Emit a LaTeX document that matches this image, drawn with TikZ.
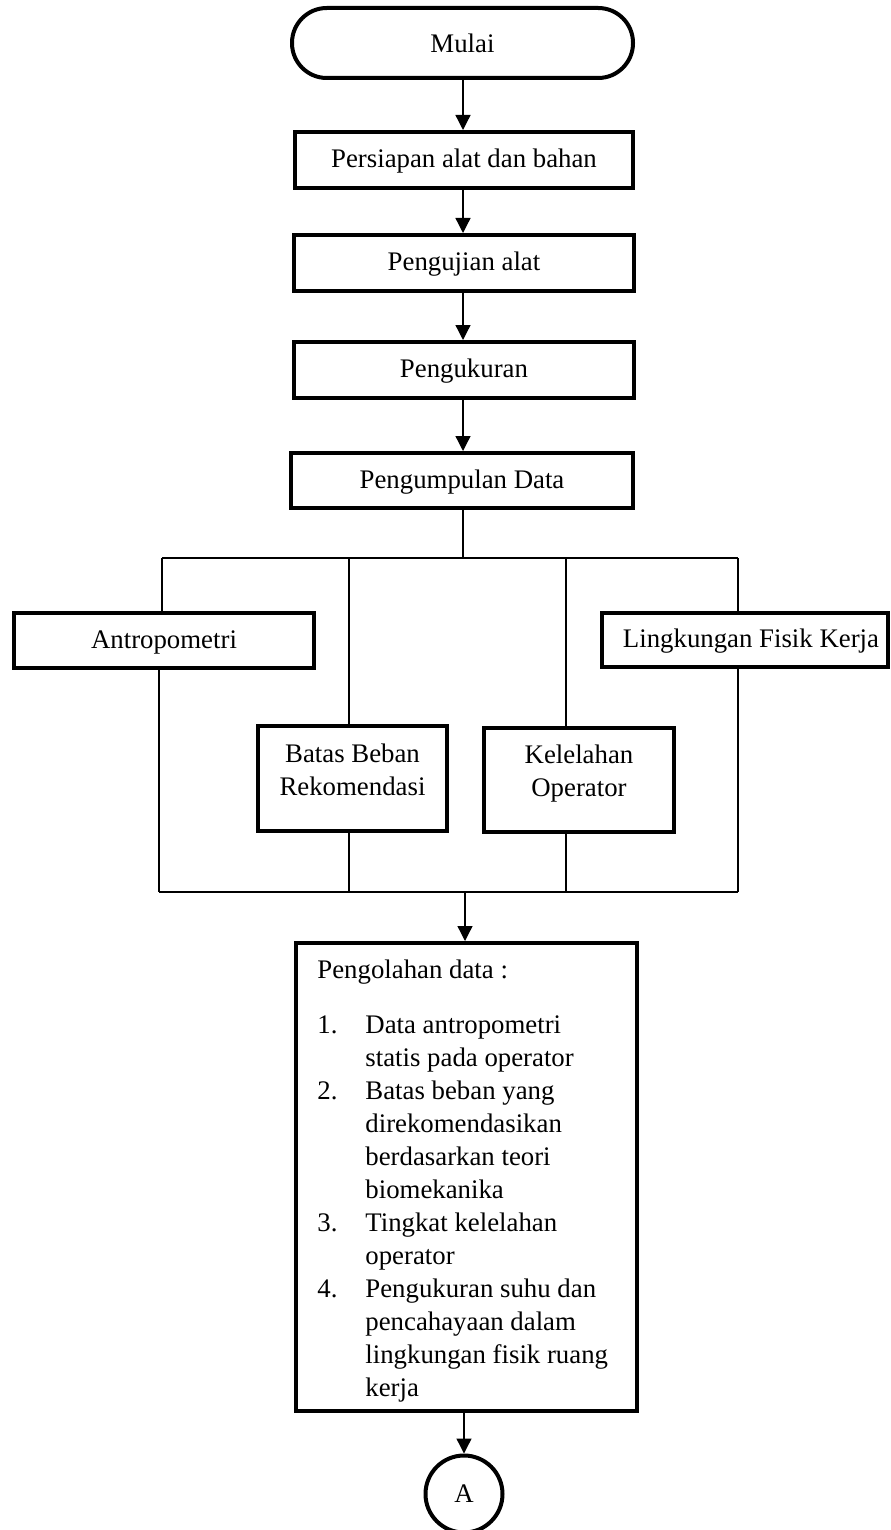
\documentclass[tikz,border=0pt]{standalone}
\usepackage{fontspec}
\setmainfont{Liberation Serif}
\usetikzlibrary{arrows.meta}
\begin{document}
\begin{tikzpicture}[x=0.5pt,y=-0.5pt,
  every node/.style={font=\fontsize{13.4pt}{16.5pt}\selectfont, inner sep=0pt},
  flowbox/.style={draw, line width=2pt, text height=9.4pt, text depth=1.6pt},
  plaintext/.style={text height=9.4pt, text depth=1.6pt},
  conn/.style={line width=0.65pt},
  arr/.style={line width=0.65pt, -{Triangle[length=7.5pt,width=7.5pt]}},
]
\useasboundingbox (0,0) rectangle (890,1530);

% main column
\coordinate (spine) at (463,0);
\node[flowbox, rounded corners=17.4pt, minimum width=170.5pt, minimum height=35pt, text depth=0pt] (mulai) at (462.5,43) {Mulai};
\node[flowbox, minimum width=169pt, minimum height=28pt] (persiapan) at (464,160) {Persiapan alat dan bahan};
\node[flowbox, minimum width=170pt, minimum height=28pt] (pengujian) at (464,263) {Pengujian alat};
\node[flowbox, minimum width=170pt, minimum height=28pt] (pengukuran) at (464,370) {Pengukuran};
\node[flowbox, minimum width=171pt, minimum height=27.5pt] (kumpul) at (462,480.5) {Pengumpulan Data};

\draw[arr] (spine |- mulai.south) -- (spine |- persiapan.north);
\draw[arr] (spine |- persiapan.south) -- (spine |- pengujian.north);
\draw[arr] (spine |- pengujian.south) -- (spine |- pengukuran.north);
\draw[arr] (spine |- pengukuran.south) -- (spine |- kumpul.north);

% branch boxes
\node[flowbox, minimum width=150pt, minimum height=27.5pt] (antro) at (164,640.5) {Antropometri};
\node[flowbox, minimum width=143pt, minimum height=27pt] (ling) at (745,640) {};
\node[plaintext] (lingtext) at (751,640) {Lingkungan Fisik Kerja};
\node[flowbox, minimum width=94.5pt, minimum height=52.5pt] (batas) at (352.5,778.5) {};
\node[anchor=base] (batastext) at (352.5,762) {\parbox[t]{90pt}{\centering Batas Beban\\Rekomendasi}};
\node[flowbox, minimum width=95pt, minimum height=52pt] (kel) at (579,780) {};
\node[anchor=base] (keltext) at (579,763) {\parbox[t]{90pt}{\centering Kelelahan\\Operator}};

% top branching lines
\coordinate (tl) at (162,558);
\coordinate (bt) at (349,558);
\coordinate (kt) at (566,558);
\coordinate (tr) at (738,558);
\draw[conn] (spine |- kumpul.south) -- (spine |- tl);
\draw[conn] (tl) -- (tr);
\draw[conn] (tl) -- (tl |- antro.north);
\draw[conn] (bt) -- (bt |- batas.north);
\draw[conn] (kt) -- (kt |- kel.north);
\draw[conn] (tr) -- (tr |- ling.north);

% bottom joining lines
\coordinate (bl) at (159,892);
\coordinate (bb) at (349,892);
\coordinate (kb) at (566,892);
\coordinate (br) at (738,892);
\coordinate (bm) at (465,892);
\draw[conn] (bl |- antro.south) -- (bl);
\draw[conn] (bb |- batas.south) -- (bb);
\draw[conn] (kb |- kel.south) -- (kb);
\draw[conn] (br |- ling.south) -- (br);
\draw[conn] (bl) -- (br);

% processing box
\node[flowbox, minimum width=170.5pt, minimum height=234pt] (olah) at (466.5,1177) {};
\node[anchor=base west] (olahtext) at (317,978) {\parbox[t]{150pt}{%
Pengolahan data :\\[11pt]
\makebox[24pt][l]{1.}Data antropometri\\
\hspace*{24pt}statis pada operator\\
\makebox[24pt][l]{2.}Batas beban yang\\
\hspace*{24pt}direkomendasikan\\
\hspace*{24pt}berdasarkan teori\\
\hspace*{24pt}biomekanika\\
\makebox[24pt][l]{3.}Tingkat kelelahan\\
\hspace*{24pt}operator\\
\makebox[24pt][l]{4.}Pengukuran suhu dan\\
\hspace*{24pt}pencahayaan dalam\\
\hspace*{24pt}lingkungan fisik ruang\\
\hspace*{24pt}kerja}};
\draw[arr] (bm) -- (bm |- olah.north);

% connector A
\node[draw, circle, line width=2pt, minimum size=38.5pt] (circ) at (464,1494) {A};
\draw[arr] (circ.north |- olah.south) -- (circ.north);
\end{tikzpicture}
\end{document}
